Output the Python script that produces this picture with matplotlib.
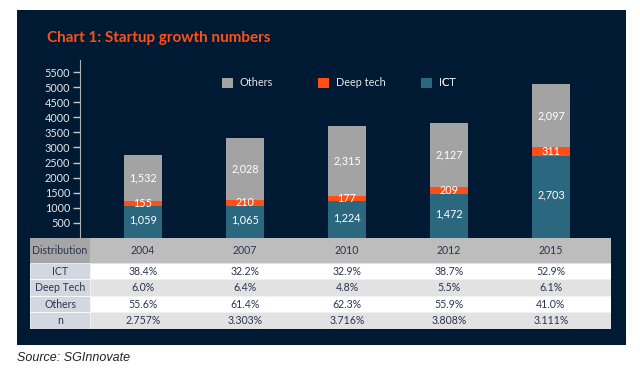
import numpy as np
import matplotlib
matplotlib.use("Agg")
import matplotlib.pyplot as plt
from matplotlib.patches import Rectangle

years = ["2004", "2007", "2010", "2012", "2015"]
ict = [1059, 1065, 1224, 1472, 2703]
deep_tech = [155, 210, 177, 209, 311]
others = [1532, 2028, 2315, 2127, 2097]

row_names = ["ICT", "Deep Tech", "Others", "n"]
table_rows = [
    ["38.4%", "32.2%", "32.9%", "38.7%", "52.9%"],
    ["6.0%", "6.4%", "4.8%", "5.5%", "6.1%"],
    ["55.6%", "61.4%", "62.3%", "55.9%", "41.0%"],
    ["2.757%", "3.303%", "3.716%", "3.808%", "3.111%"],
]

NAVY = "#001a33"
GREY = "#a3a3a3"
ORANGE = "#ff4f17"
TEAL = "#2b6880"
TXT = "#2a3550"

W, H = 640, 376
fig = plt.figure(figsize=(W / 100, H / 100), dpi=100)
fig.patch.set_facecolor("white")


def fx(px):
    return px / W


def fy(py):
    return 1 - py / H


# navy panel
fig.patches.append(Rectangle((fx(17), fy(345)), fx(626 - 17), (345 - 10) / H,
                             transform=fig.transFigure, facecolor=NAVY,
                             edgecolor="none", zorder=-10))

fig.text(fx(47), fy(38), "Chart 1: Startup growth numbers", color=ORANGE,
         fontsize=11, fontweight="bold", family="Lato", va="center", ha="left")

# bar chart axes
ax = fig.add_axes([fx(80), fy(238), fx(626 - 80), (238 - 60) / H])
ax.set_facecolor("none")
x = np.arange(len(years))
step = 102.0
ax.set_xlim(-(143 - 80) / step, (626 - 143) / step)
ax.set_ylim(0, 5900)

w = 38 / step
b1 = ax.bar(x, ict, w, color=TEAL, label="ICT")
b2 = ax.bar(x, deep_tech, w, bottom=ict, color=ORANGE, label="Deep tech")
bot3 = [a + b for a, b in zip(ict, deep_tech)]
b3 = ax.bar(x, others, w, bottom=bot3, color=GREY, label="Others")

lab_kw = dict(color="white", ha="center", va="center", fontsize=7.8, family="Lato")
for i in range(len(years)):
    ax.text(x[i], ict[i] / 2 + 60, f"{ict[i]:,}", **lab_kw)
    ax.text(x[i], ict[i] + deep_tech[i] / 2, f"{deep_tech[i]:,}", **lab_kw)
    ax.text(x[i], bot3[i] + others[i] / 2, f"{others[i]:,}", **lab_kw)

ax.set_yticks(range(500, 5501, 500))
ax.set_xticks([])
ax.tick_params(axis="y", colors="#c8c8c8", labelsize=7.8, length=5, width=1,
               labelcolor="#e6e6e6", pad=2)
for lab in ax.get_yticklabels():
    lab.set_family("Lato")
for s in ["top", "right", "bottom"]:
    ax.spines[s].set_visible(False)
ax.spines["left"].set_color("#b0b0b0")

# legend entries placed one by one
leg_x = [218, 314, 417]
for h, px in zip([b3, b2, b1], leg_x):
    lg = ax.legend(handles=[h], loc="center left",
                   bbox_to_anchor=((px - 80) / (626 - 80), 1 - (83 - 60) / (238 - 60)),
                   frameon=False, labelcolor="#e6e6e6", borderaxespad=0,
                   handlelength=1.0, handleheight=1.0, handletextpad=0.6,
                   prop={"family": "Lato", "size": 7.8})
    ax.add_artist(lg)

# table axes
tx = fig.add_axes([fx(30), fy(329), fx(611 - 30), (329 - 238) / H])
tx.set_xlim((30 - 143) / step, (611 - 143) / step)
tx.set_ylim(len(row_names) + 1.5, 0)
tx.axis("off")
first_r = (90 - 143) / step
xl, xr = tx.get_xlim()

tab_kw = dict(ha="center", va="center", fontsize=7.6, color=TXT, family="Lato")
# header row (height 1.5), data rows height 1
tx.add_patch(Rectangle((xl, 0), first_r - xl, 1.5, facecolor="#a6a6a6", edgecolor="none"))
tx.add_patch(Rectangle((first_r, 0), xr - first_r, 1.5, facecolor="#bdbdbd", edgecolor="none"))
tx.text((xl + first_r) / 2, 0.75, "Distribution", **tab_kw)
for i, yr in enumerate(years):
    tx.text(i, 0.75, yr, **tab_kw)

for r, name in enumerate(row_names):
    y0 = 1.5 + r
    tx.add_patch(Rectangle((xl, y0), first_r - xl, 1, facecolor="#d3d8e0",
                           edgecolor="white", lw=0.6))
    tx.add_patch(Rectangle((first_r, y0), xr - first_r, 1,
                           facecolor="white" if r % 2 == 0 else "#e2e2e2",
                           edgecolor="#f4f4f4", lw=0.6))
    tx.text((xl + first_r) / 2, y0 + 0.5, name, **tab_kw)
    for i, val in enumerate(table_rows[r]):
        tx.text(i, y0 + 0.5, val, **tab_kw)

fig.text(fx(17), fy(358), "Source: SGInnovate", fontsize=9, style="italic",
         family="Liberation Sans", color="#222222", va="center", ha="left")

fig.savefig("out.png", dpi=100)
